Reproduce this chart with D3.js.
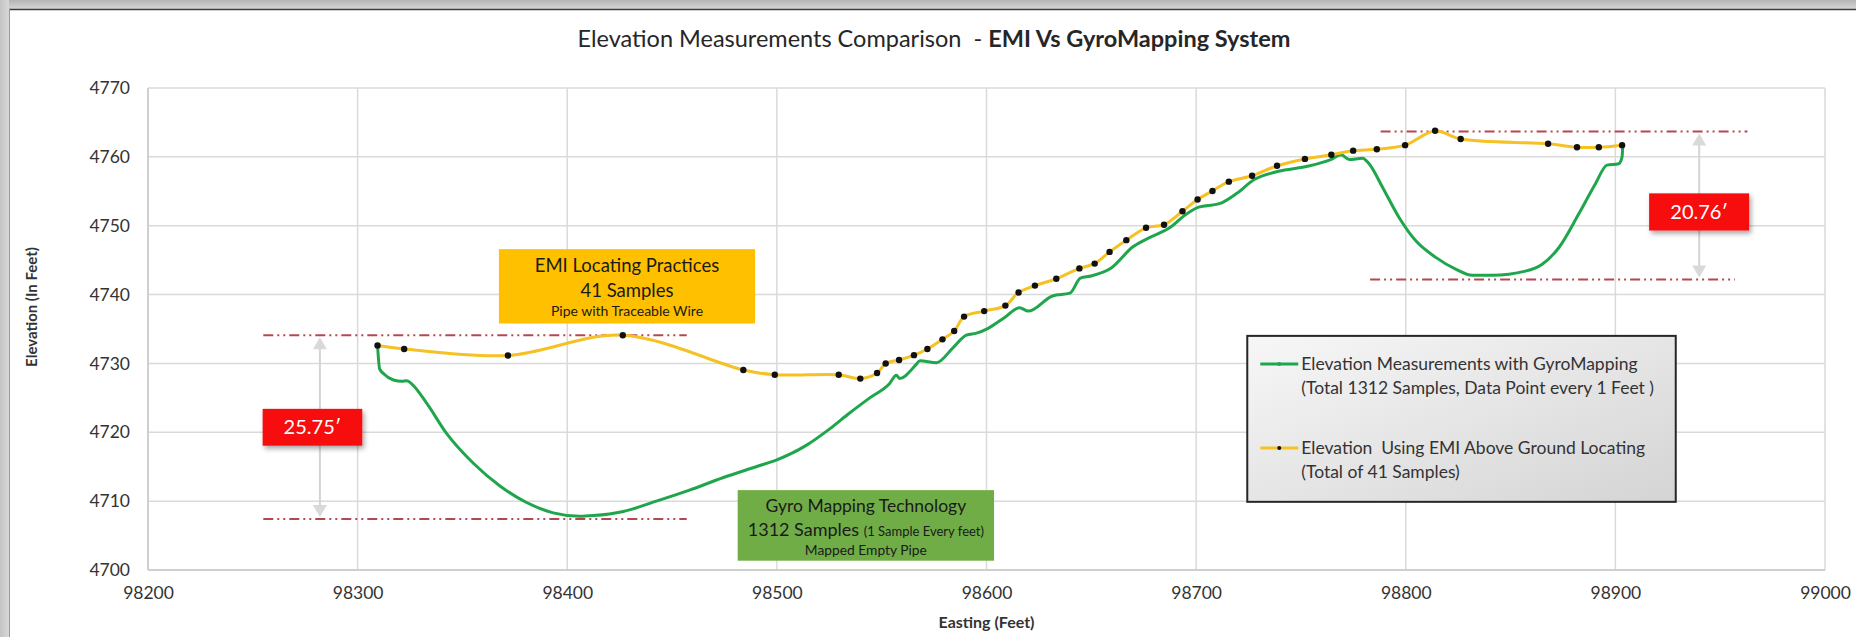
<!DOCTYPE html>
<html>
<head>
<meta charset="utf-8">
<script src="https://cdn.jsdelivr.net/npm/d3@7"></script>
<style>
  body { margin: 0; background: #fff; }
  svg text { font-family: Lato, "Open Sans", sans-serif; }
</style>
</head>
<body>
<svg id="chart" width="1856" height="637"></svg>
<script>
// values
const gyroEasting = [98309.5, 98310.5, 98312.4, 98317.1, 98321.1, 98323.5, 98325.9, 98333, 98342.5, 98355.2,
  98367.9, 98380.6, 98393.3, 98406, 98412.4, 98426.7, 98442.5, 98458.3, 98474.2, 98490.1,
  98500, 98514, 98525.2, 98534.7, 98544.3, 98553.8, 98557, 98558.6, 98566.6, 98568.2,
  98576.1, 98584.1, 98590.4, 98595.2, 98600.8, 98608.3, 98615.8, 98619.9, 98631.5, 98639.8,
  98644.8, 98649.8, 98659.7, 98669.7, 98678, 98687.9, 98694.5, 98701.2, 98711.1, 98719.4,
  98727.7, 98739.3, 98752.6, 98764.2, 98769.2, 98773, 98779.4, 98782.5, 98788.9, 98796.8,
  98804.8, 98814.3, 98823.8, 98831.7, 98841.3, 98857.1, 98865.1, 98873, 98882.5, 98890.5,
  98896, 98901.6, 98903.2, 98903.5];
const gyroElevation = [4732.6, 4729.2, 4728.5, 4727.6, 4727.4, 4727.5, 4727.0, 4724.2, 4719.8, 4715.5,
  4712.2, 4709.8, 4708.3, 4707.8, 4707.9, 4708.5, 4710.0, 4711.6, 4713.4, 4715.0,
  4716.0, 4718.1, 4720.5, 4722.8, 4725.0, 4727.1, 4728.3, 4727.8, 4729.9, 4730.4,
  4730.1, 4732.3, 4734.1, 4734.4, 4735.1, 4736.6, 4738.1, 4737.6, 4739.8, 4740.2,
  4742.4, 4742.7, 4743.9, 4746.9, 4748.3, 4749.8, 4751.5, 4752.7, 4753.2, 4754.7,
  4756.7, 4757.9, 4758.6, 4759.6, 4760.3, 4759.6, 4759.8, 4759.0, 4755.6, 4751.2,
  4747.8, 4745.4, 4743.7, 4742.8, 4742.8, 4743.4, 4744.4, 4746.8, 4751.7, 4756.1,
  4758.8, 4759.0, 4760.0, 4761.6];

const emiEasting = [98309.5, 98322.2, 98371.7, 98426.5, 98484, 98499, 98529.5, 98539.8, 98547.8, 98551.9,
  98558.3, 98565.4, 98571.8, 98579, 98584.6, 98589.3, 98598.9, 98609, 98615.3, 98623.1,
  98633.3, 98644.3, 98651.6, 98658.7, 98666.7, 98676.1, 98684.7, 98693.5, 98700.7, 98707.8,
  98715.6, 98726.7, 98738.6, 98751.9, 98764.5, 98774.9, 98786.2, 98799.7, 98814, 98826.2,
  98867.9, 98881.7, 98892.1, 98903.2];
const emiElevation = [4732.6, 4732.1, 4731.15, 4734.1, 4729.05, 4728.35, 4728.35, 4727.8, 4728.6, 4730.0,
  4730.5, 4731.2, 4732.1, 4733.5, 4734.7, 4736.8, 4737.6, 4738.4, 4740.3, 4741.3,
  4742.3, 4743.8, 4744.5, 4746.2, 4747.9, 4749.7, 4750.15, 4752.1, 4753.8, 4755.05,
  4756.4, 4757.25, 4758.7, 4759.7, 4760.3, 4760.9, 4761.1, 4761.7, 4763.8, 4762.6,
  4761.9, 4761.4, 4761.4, 4761.7];

const xTicks = [98200, 98300, 98400, 98500, 98600, 98700, 98800, 98900, 99000];
const yTicks = [4700, 4710, 4720, 4730, 4740, 4750, 4760, 4770];

// reference (min / max) lines: [from easting, to easting, elevation]
const refLines = [
  [98255, 98457, 4734.1],
  [98255, 98457, 4707.4],
  [98788, 98963, 4763.7],
  [98783, 98957, 4742.2]
];
const diffLabels = ["25.75\u2032", "20.76\u2032"];

const legendLabels = [
  ["Elevation Measurements with GyroMapping", "(Total 1312 Samples, Data Point every 1 Feet )"],
  ["Elevation  Using EMI Above Ground Locating", "(Total of 41 Samples)"]
];

const svg = d3.select("#chart");
const W = 1856, H = 637;

const x = d3.scaleLinear().domain([98200, 99000]).range([148, 1825]);
const y = d3.scaleLinear().domain([4700, 4770]).range([570, 88]);

const defs = svg.append("defs");
let g1 = defs.append("linearGradient").attr("id", "bandTop").attr("x1", 0).attr("y1", 0).attr("x2", 0).attr("y2", 1);
g1.append("stop").attr("offset", 0).attr("stop-color", "#b4b4b4");
g1.append("stop").attr("offset", 1).attr("stop-color", "#d6d6d6");
let g2 = defs.append("linearGradient").attr("id", "bandLeft").attr("x1", 0).attr("y1", 0).attr("x2", 1).attr("y2", 0);
g2.append("stop").attr("offset", 0).attr("stop-color", "#c4c4c4");
g2.append("stop").attr("offset", 1).attr("stop-color", "#d8d8d8");
let g3 = defs.append("linearGradient").attr("id", "legendFill").attr("x1", 0).attr("y1", 0).attr("x2", 1).attr("y2", 1);
g3.append("stop").attr("offset", 0).attr("stop-color", "#f7f7f7");
g3.append("stop").attr("offset", 1).attr("stop-color", "#d4d4d4");
let sh = defs.append("filter").attr("id", "shadow").attr("x", "-20%").attr("y", "-20%").attr("width", "150%").attr("height", "160%");
sh.append("feDropShadow").attr("dx", 2).attr("dy", 3).attr("stdDeviation", 2.5).attr("flood-color", "#000").attr("flood-opacity", 0.35);

// frame
svg.append("rect").attr("width", W).attr("height", H).attr("fill", "#fff");
svg.append("rect").attr("width", W).attr("height", 9).attr("fill", "url(#bandTop)");
svg.append("rect").attr("width", 9).attr("height", H).attr("fill", "url(#bandLeft)");
svg.append("line").attr("x1", 9).attr("x2", W).attr("y1", 9.5).attr("y2", 9.5).attr("stroke", "#3c3c3c").attr("stroke-width", 1.5);
svg.append("line").attr("x1", 9.5).attr("x2", 9.5).attr("y1", 9).attr("y2", H).attr("stroke", "#9a9a9a").attr("stroke-width", 1);

// title
svg.append("text")
  .attr("x", 934).attr("y", 47)
  .attr("text-anchor", "middle")
  .style("white-space", "pre")
  .attr("font-size", 23.5).attr("fill", "#262626")
  .call(t => {
    t.append("tspan").text("Elevation Measurements Comparison  - ");
    t.append("tspan").attr("font-weight", "bold").text("EMI Vs GyroMapping System");
  });

// grid
svg.append("g").selectAll("line").data(yTicks).enter().append("line")
  .attr("x1", x.range()[0]).attr("x2", x.range()[1])
  .attr("y1", d => y(d)).attr("y2", d => y(d))
  .attr("stroke", "#dadada").attr("stroke-width", 1.5);
svg.append("g").selectAll("line").data(xTicks).enter().append("line")
  .attr("x1", d => x(d)).attr("x2", d => x(d))
  .attr("y1", y.range()[0]).attr("y2", y.range()[1])
  .attr("stroke", "#dadada").attr("stroke-width", 1.5);
svg.append("line").attr("x1", x.range()[0]).attr("x2", x.range()[1]).attr("y1", y(4700)).attr("y2", y(4700))
  .attr("stroke", "#c8c8c8").attr("stroke-width", 1.5);
svg.append("line").attr("x1", x(98200)).attr("x2", x(98200)).attr("y1", y.range()[0]).attr("y2", y.range()[1])
  .attr("stroke", "#c8c8c8").attr("stroke-width", 1.5);

// axes (labels only)
const yAxis = svg.append("g").attr("transform", `translate(${x.range()[0]},0)`)
  .call(d3.axisLeft(y).tickValues(yTicks).tickSize(0).tickPadding(18).tickFormat(d3.format("d")));
const xAxis = svg.append("g").attr("transform", `translate(0,${y.range()[0]})`)
  .call(d3.axisBottom(x).tickValues(xTicks).tickSize(0).tickPadding(17).tickFormat(d3.format("d")));
[yAxis, xAxis].forEach(a => {
  a.select(".domain").remove();
  a.selectAll("text").attr("font-size", 17.5).attr("fill", "#333").style("font-family", "Lato, sans-serif");
});

svg.append("text").attr("x", (x.range()[0] + x.range()[1]) / 2).attr("y", 628)
  .attr("text-anchor", "middle").attr("font-size", 16).attr("font-weight", "bold").attr("fill", "#333")
  .text("Easting (Feet)");
svg.append("text").attr("transform", "translate(37,307) rotate(-90)")
  .attr("text-anchor", "middle").attr("font-size", 15).attr("font-weight", "bold").attr("fill", "#333")
  .text("Elevation (In Feet)");

// reference lines
svg.append("g").selectAll("line").data(refLines).enter().append("line")
  .attr("x1", d => x(d[0])).attr("x2", d => x(d[1]))
  .attr("y1", d => y(d[2])).attr("y2", d => y(d[2]))
  .attr("stroke", "#b5474f").attr("stroke-width", 2)
  .attr("stroke-dasharray", "10,4,2,4,2,4");

// double arrows
function arrow(ex, top, bottom) {
  const ax = x(ex), y0 = y(top), y1 = y(bottom);
  svg.append("line").attr("x1", ax).attr("x2", ax).attr("y1", y0 + 8).attr("y2", y1 - 8)
    .attr("stroke", "#d4d4d4").attr("stroke-width", 2);
  svg.append("path").attr("d", `M${ax},${y0 + 2} L${ax - 7},${y0 + 14} L${ax + 7},${y0 + 14} Z`).attr("fill", "#d9d9d9");
  svg.append("path").attr("d", `M${ax},${y1 - 2} L${ax - 7},${y1 - 14} L${ax + 7},${y1 - 14} Z`).attr("fill", "#d9d9d9");
}
arrow(98282, refLines[0][2], refLines[1][2]);
arrow(98940, refLines[2][2], refLines[3][2]);

// series
const gyro = gyroEasting.map((e, i) => ({ e: e, v: gyroElevation[i] }));
const emi = emiEasting.map((e, i) => ({ e: e, v: emiElevation[i] }));

svg.append("path").datum(gyro)
  .attr("d", d3.line().x(d => x(d.e)).y(d => y(d.v)).curve(d3.curveMonotoneX))
  .attr("fill", "none").attr("stroke", "#1fa64c").attr("stroke-width", 3).attr("stroke-linejoin", "round");
svg.append("path").datum(emi)
  .attr("d", d3.line().x(d => x(d.e)).y(d => y(d.v)).curve(d3.curveCatmullRom.alpha(0.5)))
  .attr("fill", "none").attr("stroke", "#f5c124").attr("stroke-width", 3).attr("stroke-linejoin", "round");
svg.append("g").selectAll("circle").data(emi).enter().append("circle")
  .attr("cx", d => x(d.e)).attr("cy", d => y(d.v)).attr("r", 3.2).attr("fill", "#111");

// red difference boxes
function redBox(e0, e1, v0, v1, label) {
  const bx = x(e0), by = y(v0), bw = x(e1) - x(e0), bh = y(v1) - y(v0);
  svg.append("rect").attr("x", bx).attr("y", by).attr("width", bw).attr("height", bh)
    .attr("fill", "#f70d0d").attr("filter", "url(#shadow)");
  svg.append("text").attr("x", bx + bw / 2).attr("y", by + bh / 2 + 7)
    .attr("text-anchor", "middle").attr("font-size", 20).attr("fill", "#fff").text(label);
}
redBox(98254.7, 98302.2, 4723.4, 4718.05, diffLabels[0]);
redBox(98916.1, 98963.8, 4754.7, 4749.3, diffLabels[1]);

// EMI note
{
  const bx = x(98367.4), by = y(4746.6), bw = x(98489.6) - bx, bh = y(4735.8) - by;
  svg.append("rect").attr("x", bx).attr("y", by).attr("width", bw).attr("height", bh).attr("fill", "#ffc000");
  const cx = bx + bw / 2;
  svg.append("text").attr("x", cx).attr("y", by + 23).attr("text-anchor", "middle").attr("font-size", 18.5).attr("fill", "#1a1a1a").text("EMI Locating Practices");
  svg.append("text").attr("x", cx).attr("y", by + 48).attr("text-anchor", "middle").attr("font-size", 18.5).attr("fill", "#1a1a1a").text("41 Samples");
  svg.append("text").attr("x", cx).attr("y", by + 67).attr("text-anchor", "middle").attr("font-size", 14).attr("fill", "#1a1a1a").text("Pipe with Traceable Wire");
}

// Gyro note
{
  const bx = x(98481.3), by = y(4711.6), bw = x(98603.6) - bx, bh = y(4701.35) - by;
  svg.append("rect").attr("x", bx).attr("y", by).attr("width", bw).attr("height", bh).attr("fill", "#70ad47");
  const cx = bx + bw / 2;
  svg.append("text").attr("x", cx).attr("y", by + 22).attr("text-anchor", "middle").attr("font-size", 17.5).attr("fill", "#1a1a1a").text("Gyro Mapping Technology");
  svg.append("text").attr("x", cx).attr("y", by + 46).attr("text-anchor", "middle").attr("fill", "#1a1a1a")
    .call(t => {
      t.append("tspan").attr("font-size", 18).text("1312 Samples ");
      t.append("tspan").attr("font-size", 13).text("(1 Sample Every feet)");
    });
  svg.append("text").attr("x", cx).attr("y", by + 65).attr("text-anchor", "middle").attr("font-size", 13.8).attr("fill", "#1a1a1a").text("Mapped Empty Pipe");
}

// legend
{
  const lx = x(98724.4), ly = y(4734.0), lw = x(98928.8) - lx, lh = y(4709.9) - ly;
  svg.append("rect").attr("x", lx).attr("y", ly).attr("width", lw).attr("height", lh)
    .attr("fill", "url(#legendFill)").attr("stroke", "#262626").attr("stroke-width", 2);
  const rows = [
    { color: "#1fa64c", dot: "#1fa64c", dy: 28 },
    { color: "#f5c124", dot: "#111", dy: 112 }
  ];
  rows.forEach((r, i) => {
    const ry = ly + r.dy;
    svg.append("line").attr("x1", lx + 13).attr("x2", lx + 51).attr("y1", ry).attr("y2", ry)
      .attr("stroke", r.color).attr("stroke-width", 3);
    svg.append("circle").attr("cx", lx + 32).attr("cy", ry).attr("r", 2).attr("fill", r.dot);
    svg.append("text").attr("x", lx + 54).attr("y", ry + 6).attr("font-size", 17.5).attr("fill", "#333")
      .style("white-space", "pre").text(legendLabels[i][0]);
    svg.append("text").attr("x", lx + 54).attr("y", ry + 30).attr("font-size", 17.5).attr("fill", "#333")
      .style("white-space", "pre").text(legendLabels[i][1]);
  });
}
</script>
</body>
</html>
